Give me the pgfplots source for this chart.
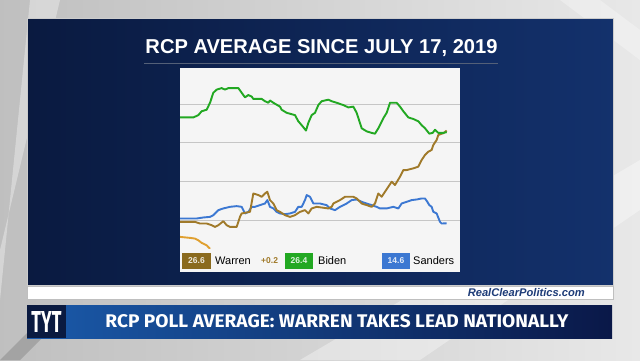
\documentclass[border=0pt]{standalone}
\usepackage{pgfplots}
\pgfplotsset{compat=1.18}
\usepackage{fontspec}
\setmainfont{Liberation Sans}
\newfontfamily\fira{Fira Sans}
\definecolor{navyL}{HTML}{0A1A40}
\definecolor{navyR}{HTML}{13316C}
\definecolor{warren}{HTML}{A07A2A}
\definecolor{warrenbox}{HTML}{8A6A1E}
\definecolor{biden}{HTML}{22A822}
\definecolor{sanders}{HTML}{3C78D2}
\definecolor{harris}{HTML}{E0A030}
\definecolor{rcpblue}{HTML}{1E3C78}
\definecolor{bannerL}{HTML}{1A5AAA}
\definecolor{bannerR}{HTML}{0A1848}
\definecolor{plotbg}{HTML}{F5F5F5}
\begin{document}
\begin{tikzpicture}[x=1pt,y=1pt]
\path[use as bounding box] (0,0) rectangle (640,360);
\shade[left color=gray!50, right color=gray!18] (0,0) rectangle (640,360);
\fill[white,opacity=0.35] (0,60) -- (0,110) -- (60,360) -- (30,360) -- cycle;
\fill[white,opacity=0.35] (300,0) -- (420,0) -- (640,150) -- (640,200) -- cycle;
\fill[white,opacity=0.3] (560,360) -- (600,360) -- (640,330) -- (640,300) -- cycle;
\fill[black,opacity=0.15] (0,0) -- (20,0) -- (60,40) -- (40,40) -- cycle;
% navy panel
\shade[left color=navyL, right color=navyR] (27,75) rectangle (613,342);
\draw[gray!40,line width=0.6pt] (27,75) rectangle (613,342);
% white strip
\fill[white] (27,61) rectangle (613,74);
\draw[gray!50,line width=0.6pt] (27,61) rectangle (613,74);
\node[anchor=east,text=rcpblue,inner sep=0] at (585,67.5) {\resizebox{117pt}{!}{\bfseries\itshape RealClearPolitics.com}};
% banner
\shade[left color=bannerL, right color=bannerR] (27,22) rectangle (612,55);
\fill[navyL] (27,22) rectangle (66,55);
\node[text=white,inner sep=0] at (46.5,38.5) {\resizebox{30pt}{21pt}{\fira\bfseries TYT}};
\node[text=white,inner sep=0] at (337,38.5) {\resizebox{463pt}{13pt}{\fira\bfseries RCP POLL AVERAGE: WARREN TAKES LEAD NATIONALLY}};
% title
\node[text=white,inner sep=0] at (321.5,312) {\resizebox{352pt}{!}{\bfseries RCP AVERAGE SINCE JULY 17, 2019}};
\draw[gray!60!navyR,line width=1pt] (144,297) -- (498,297);
% chart box
\fill[plotbg] (180,88) rectangle (460,292);
\begin{axis}[at={(180pt,112pt)}, anchor=south west, scale only axis,
  width=280pt, height=180pt, xmin=0, xmax=840, ymin=11.4, ymax=34.7,
  axis line style={draw=none}, major tick length=0pt, ymajorgrids,
  ytick={15,20,25,30}, yticklabels={}, xtick=\empty,
  grid style={draw=gray!45,line width=0.9pt},
  every axis plot/.append style={line width=1.9pt, line join=round}]
\addplot[harris] coordinates {(0,12.84) (30,12.71) (45,12.62) (55,12.40) (65,12.06) (80,11.75) (90,11.3)};
\addplot[sanders] coordinates {
(0,15.22) (50,15.22) (70,15.35) (90,15.43) (100,15.65) (115,16.30) (130,16.52) (150,16.73) (170,16.82) (185,16.73) (195,15.87) (205,16.08) (215,16.73) (225,16.73) (240,16.95) (255,17.16) (262,17.60) (270,16.73) (280,16.52) (290,16.08) (300,15.87) (315,15.78) (330,15.87) (345,16.08) (355,16.73) (365,16.73) (375,17.60) (380,18.25) (390,18.03) (400,17.16) (420,17.16) (440,16.95) (450,16.52) (465,16.30) (480,16.73) (500,17.16) (515,17.60) (530,17.68) (545,17.38) (560,17.16) (575,16.95) (590,16.73) (600,16.52) (620,16.52) (640,16.73) (655,16.52) (665,17.16) (680,17.38) (695,17.60) (710,17.68) (725,17.81) (735,17.81) (742,17.38) (748,16.95) (755,16.73) (760,16.08) (770,15.87) (780,14.78) (785,14.57) (800,14.6)};
\addplot[warren] coordinates {
(0,14.78) (45,14.78) (60,14.57) (80,14.57) (95,14.35) (105,14.13) (115,14.35) (130,14.87) (140,14.35) (150,14.13) (170,14.13) (180,15.43) (185,15.87) (210,16.08) (220,18.46) (235,18.25) (245,18.03) (255,18.46) (262,18.68) (270,17.60) (280,17.16) (290,16.30) (300,16.08) (315,15.65) (330,15.43) (345,15.65) (360,16.08) (375,16.30) (385,15.87) (395,16.52) (410,16.73) (445,16.52) (455,16.73) (460,17.16) (480,17.60) (495,18.03) (520,18.03) (530,17.81) (545,17.16) (560,16.95) (575,16.73) (585,17.16) (595,18.46) (605,18.03) (615,18.68) (625,19.33) (635,19.98) (645,19.55) (660,20.63) (670,21.49) (680,21.49) (700,21.71) (715,21.93) (725,22.79) (735,23.44) (745,23.87) (755,24.09) (760,24.74) (770,25.39) (775,26.04) (790,26.26) (800,26.6)};
\addplot[biden] coordinates {
(0,28.3) (40,28.3) (55,28.6) (65,29.1) (80,29.3) (90,30.2) (100,31.5) (110,31.9) (125,32.1) (135,31.9) (145,32.1) (175,32.1) (185,31.5) (195,30.9) (205,31.2) (215,31.0) (220,30.7) (245,30.7) (255,30.4) (265,30.2) (270,30.5) (280,30.2) (300,29.7) (305,29.3) (320,28.9) (345,28.6) (355,27.8) (365,27.3) (378,26.6) (385,27.6) (395,28.6) (405,28.9) (415,29.9) (425,30.4) (445,30.6) (455,30.4) (470,30.2) (490,29.9) (505,29.6) (520,29.7) (530,28.9) (545,26.9) (560,26.5) (575,26.3) (585,26.2) (595,26.9) (610,28.2) (620,28.9) (630,30.2) (650,30.2) (660,29.7) (670,29.1) (685,28.3) (700,28.1) (715,27.8) (725,27.3) (735,26.9) (748,26.2) (758,26.3) (765,26.7) (775,26.3) (790,26.3) (800,26.4)};
\end{axis}
% legend
\fill[plotbg] (180,88) rectangle (460,109);
\fill[warrenbox] (182,91) rectangle (211,107);
\node[text=white!85!warrenbox,font=\fontsize{8.5}{9}\selectfont\bfseries] at (196.5,99) {26.6};
\node[anchor=west,inner sep=0,font=\fontsize{11}{12}\selectfont] at (215,99) {Warren};
\node[anchor=west,inner sep=0,text=warren,font=\fontsize{8.5}{9}\selectfont\bfseries] at (261,99) {+0.2};
\fill[biden] (285,91) rectangle (313,107);
\node[text=white!85!biden,font=\fontsize{8.5}{9}\selectfont\bfseries] at (299,99) {26.4};
\node[anchor=west,inner sep=0,font=\fontsize{11}{12}\selectfont] at (318,99) {Biden};
\fill[sanders] (382,91) rectangle (410,107);
\node[text=white!85!sanders,font=\fontsize{8.5}{9}\selectfont\bfseries] at (396,99) {14.6};
\node[anchor=west,inner sep=0,font=\fontsize{11}{12}\selectfont] at (413,99) {Sanders};
\end{tikzpicture}
\end{document}
